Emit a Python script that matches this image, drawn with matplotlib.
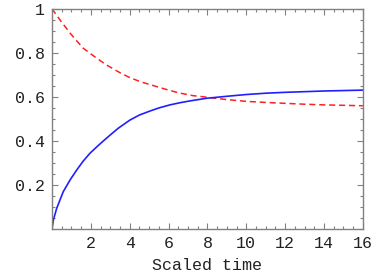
import numpy as np
import matplotlib
matplotlib.use("Agg")
import matplotlib.pyplot as plt
from matplotlib.ticker import MultipleLocator, FixedLocator

# data
blue_t = [0, 0.07, 0.24, 0.58, 0.93, 1.27, 1.6, 1.95, 2.3, 2.64, 2.98, 3.41, 4.01, 4.5,
          5.04, 5.5, 6.07, 6.6, 7.1, 7.96, 9, 10, 11, 12, 13, 14, 15, 16]
blue_vals = [0, 0.041, 0.094, 0.17, 0.223, 0.268, 0.308, 0.344, 0.373, 0.4, 0.426, 0.458,
             0.495, 0.518, 0.536, 0.55, 0.564, 0.574, 0.582, 0.594, 0.603, 0.611, 0.617,
             0.621, 0.624, 0.627, 0.629, 0.631]
red_t = [0, 0.41, 0.93, 1.27, 1.61, 2.3, 2.81, 3.5, 4.0, 4.53, 5.2, 5.81, 6.5, 7.25, 7.96,
         9, 10, 11, 12, 13, 14, 15, 16]
red_vals = [1, 0.95, 0.89, 0.855, 0.821, 0.776, 0.745, 0.71, 0.688, 0.67, 0.652, 0.636,
            0.619, 0.606, 0.599, 0.588, 0.58, 0.575, 0.571, 0.567, 0.564, 0.562, 0.56]
x_ticks = [2, 4, 6, 8, 10, 12, 14, 16]
y_ticks = [0.2, 0.4, 0.6, 0.8, 1]
y_labels = ["0.2", "0.4", "0.6", "0.8", "1"]

plt.rcParams['font.family'] = ['Liberation Mono', 'DejaVu Sans Mono']

fig = plt.figure(figsize=(3.91, 2.77), dpi=100)
ax = fig.add_axes([0.133, 0.173, 0.795, 0.795])

ax.plot(red_t, red_vals, color='#ff2020', lw=1.1, ls=(0, (4, 2.5)))
ax.plot(blue_t, blue_vals, color='#2020ff', lw=1.2)

ax.set_xlim(0, 16)
ax.set_ylim(0, 1)
ax.xaxis.set_major_locator(FixedLocator(x_ticks))
ax.xaxis.set_minor_locator(MultipleLocator(0.5))
ax.yaxis.set_major_locator(FixedLocator(y_ticks))
ax.yaxis.set_minor_locator(MultipleLocator(0.05))
ax.set_xticklabels([str(v) for v in x_ticks])
ax.set_yticklabels(y_labels)

for s in ax.spines.values():
    s.set_color('#808080')
    s.set_linewidth(1.0)
ax.tick_params(which='both', direction='in', top=True, right=True, colors='#808080',
               labelcolor='#222222', labelsize=12, width=0.8)
ax.tick_params(which='major', length=4, pad=5)
ax.tick_params(which='minor', length=2)

ax.set_xlabel("Scaled time", fontsize=12, color='#222222', labelpad=5)

fig.savefig("out.png", dpi=100)
